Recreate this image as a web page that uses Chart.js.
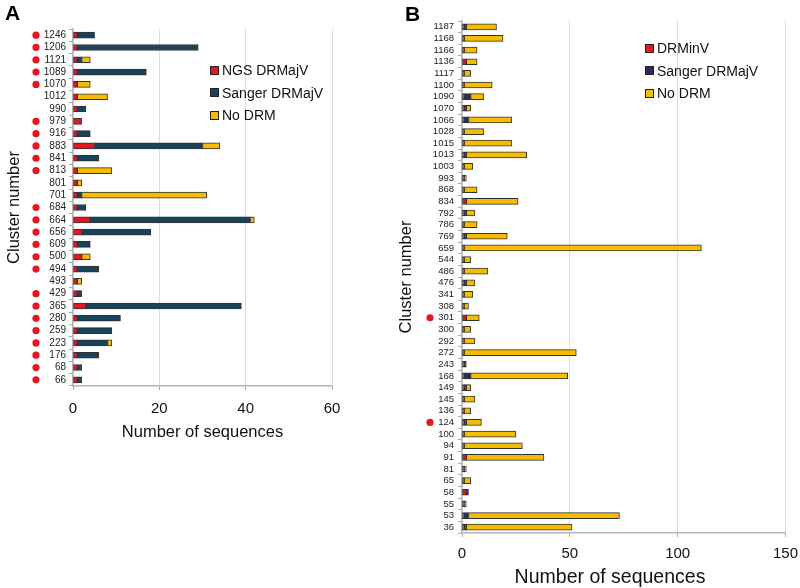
<!DOCTYPE html>
<html><head><meta charset="utf-8">
<script src="https://cdn.jsdelivr.net/npm/chart.js@4"></script>
<style>
body{margin:0;width:800px;height:588px;background:#fff;font-family:"Liberation Sans",Arial,sans-serif;position:relative;overflow:hidden}
#wa{position:absolute;left:0;top:0;width:390px;height:450px}
#wb{position:absolute;left:390px;top:0;width:416px;height:588px}
.letter{position:absolute;font-weight:bold;font-size:21px;color:#000;line-height:1}
.leg{position:absolute;font-size:14px;color:#111;line-height:1}
.leg div{height:22.5px;display:flex;align-items:center;white-space:nowrap}
.leg span.b{display:inline-block;width:7px;height:7px;border:1px solid #222;margin-right:3px}
.xt{position:absolute;font-size:19.5px;color:#111;line-height:1;text-align:center;white-space:nowrap}
</style></head><body>
<div id="wa"><canvas id="ca"></canvas></div>
<div id="wb"><canvas id="cb"></canvas></div>
<div class="letter" style="left:5px;top:2px">A</div>
<div class="letter" style="left:405px;top:3px">B</div>
<div class="leg" id="lega" style="left:210px;top:59px"></div>
<div class="leg" id="legb" style="left:645px;top:37px"></div>
<div class="xt" id="xtb" style="left:500px;width:220px;top:567px"></div>
<script>
// ---------- Panel A data ----------
const clustersA = ['1246','1206','1121','1089','1070','1012','990','979','916','883','841','813','801','701','684','664','656','609','500','494','493','429','365','280','259','223','176','68','66'];
const ngsA    = [1,1,1,1,1,1,1,2,1,5, 1,1,1,1,1,4,2,1,2,1, 1,1,3,1,1,1,1,1,1];
const sangerA = [4,28,1,16,0,0,2,0,3,25, 5,0,0,1,2,37,16,3,0,5, 0,1,36,10,8,7,5,1,1];
const noDrmA  = [0,0,2,0,3,7,0,0,0,4, 0,8,1,29,0,1,0,0,2,0, 1,0,0,0,0,1,0,0,0];
const markedA = [1,1,1,1,1,0,0,1,1,1, 1,1,0,0,1,1,1,1,1,1, 0,1,1,1,1,1,1,1,1];
const ticksA = [0,20,40,60];
const seriesNamesA = ['NGS DRMajV','Sanger DRMajV','No DRM'];

// ---------- Panel B data ----------
const clustersB = ['1187','1168','1166','1136','1117','1100','1090','1070','1066','1028','1015','1013','1003','993','868','834','792','786','769','659','544','486','476','341','308','301','300','292','272','243','168','149','145','136','124','100','94','91','81','65','58','55','53','36'];
const inVB    = [1,1,1,2,1,1,1,1,1,1, 1,1,1,1,1,2,1,1,1,1, 1,1,1,1,1,2,1,1,1,1, 1,1,1,1,1,1,1,2,1,1, 2,1,1,1];
const sangerB = [1,0,0,0,0,0,3,1,2,0, 0,1,0,0,0,0,1,0,1,0, 0,0,1,0,0,0,0,0,0,1, 3,1,0,0,1,0,0,0,0,0, 1,0,2,1];
const noDrmB  = [14,18,6,5,3,13,6,2,20,9, 22,28,4,1,6,24,4,6,19,110, 3,11,4,4,2,6,3,5,52,0, 45,2,5,3,7,24,27,36,1,3, 0,1,70,49];
const markedB = [0,0,0,0,0,0,0,0,0,0, 0,0,0,0,0,0,0,0,0,0, 0,0,0,0,0,1,0,0,0,0, 0,0,0,0,1,0,0,0,0,0, 0,0,0,0];
const ticksB = [0,50,100,150];
const seriesNamesB = ['DRMinV','Sanger DRMajV','No DRM'];

const xTitle = 'Number of sequences', yTitle = 'Cluster number';
const RED = '#e5161d', TEAL = '#17435c', NAVY = '#272a66', YEL = '#f6bd00', EDGE = '#333333';
const FONT = "'Liberation Sans', Arial, sans-serif";

const dotPlugin = {
  id: 'dots',
  afterDraw(chart, args, opts) {
    const y = chart.scales.y, ctx = chart.ctx;
    ctx.save();
    ctx.fillStyle = '#e8161c';
    opts.flags.forEach((f, i) => {
      if (!f) return;
      ctx.beginPath();
      ctx.arc(opts.x, y.getPixelForValue(i), 3.6, 0, Math.PI * 2);
      ctx.fill();
    });
    ctx.restore();
  }
};

function nz(a) { return a.map(v => v === 0 ? null : v); }

function makeChart(id, cfg) {
  const ds = cfg.series.map((s, k) => ({
    label: cfg.names[k], data: nz(s), backgroundColor: cfg.colors[k],
    borderColor: EDGE, borderWidth: 1, borderSkipped: false,
    barThickness: cfg.bar, stack: 's'
  }));
  return new Chart(document.getElementById(id), {
    type: 'bar',
    data: { labels: cfg.labels, datasets: ds },
    plugins: [dotPlugin],
    options: {
      indexAxis: 'y', responsive: true, maintainAspectRatio: false, animation: false,
      layout: { padding: cfg.pad },
      plugins: { legend: { display: false }, tooltip: { enabled: false },
                 dots: { flags: cfg.marked, x: cfg.dotX } },
      scales: {
        x: {
          stacked: true, min: 0, max: cfg.ticks[cfg.ticks.length - 1],
          afterBuildTicks: s => { s.ticks = cfg.ticks.map(v => ({ value: v })); },
          afterFit: s => { s.height = cfg.xh; },
          grid: { color: '#dcdcdc', lineWidth: 1, borderDash: [4, 3], tickLength: 4,
                  tickColor: '#aaaaaa', tickBorderDash: [], drawTicks: true },
          border: { color: '#b5b5b5', width: 1.5 },
          ticks: { color: '#111', font: { family: FONT, size: 15 }, padding: cfg.xtp },
          title: { display: cfg.xtitle > 0, text: xTitle, color: '#111',
                   font: { family: FONT, size: cfg.xtitle }, padding: { top: 0, bottom: cfg.xtb } }
        },
        y: {
          stacked: true,
          afterFit: s => { s.width = cfg.yw; },
          grid: { display: true, drawOnChartArea: false, tickLength: 4, color: '#aaaaaa' },
          border: { color: '#b5b5b5', width: 1.5 },
          ticks: { color: '#222', font: { family: FONT, size: cfg.yfs }, padding: cfg.ytp, autoSkip: false },
          title: { display: true, text: yTitle, color: '#111',
                   font: { family: FONT, size: 16.5 }, padding: { top: cfg.ytt, bottom: 0 } }
        }
      }
    }
  });
}

makeChart('ca', {
  labels: clustersA, series: [ngsA, sangerA, noDrmA], names: seriesNamesA,
  colors: [RED, TEAL, YEL], marked: markedA, ticks: ticksA, bar: 6,
  pad: { top: 29, right: 58, bottom: 0, left: 0 }, xh: 64, yw: 73,
  xtp: 10, xtb: 8, xtitle: 16.5, yfs: 10, ytp: 3, dotX: 36, ytt: 5
});
makeChart('cb', {
  labels: clustersB, series: [inVB, sangerB, noDrmB], names: seriesNamesB,
  colors: [RED, NAVY, YEL], marked: markedB, ticks: ticksB, bar: 6,
  pad: { top: 21, right: 0, bottom: 0, left: 0 }, xh: 55, yw: 72,
  xtp: 8, xtb: 2, xtitle: 0, yfs: 9.5, ytp: 4, dotX: 40, ytt: 7
});
document.getElementById('xtb').textContent = xTitle;

function legend(id, names, colors) {
  document.getElementById(id).innerHTML = names.map((n, k) =>
    `<div><span class="b" style="background:${colors[k]}"></span>${n}</div>`).join('');
}
legend('lega', seriesNamesA, [RED, TEAL, YEL]);
legend('legb', seriesNamesB, [RED, NAVY, YEL]);
</script>
</body></html>
